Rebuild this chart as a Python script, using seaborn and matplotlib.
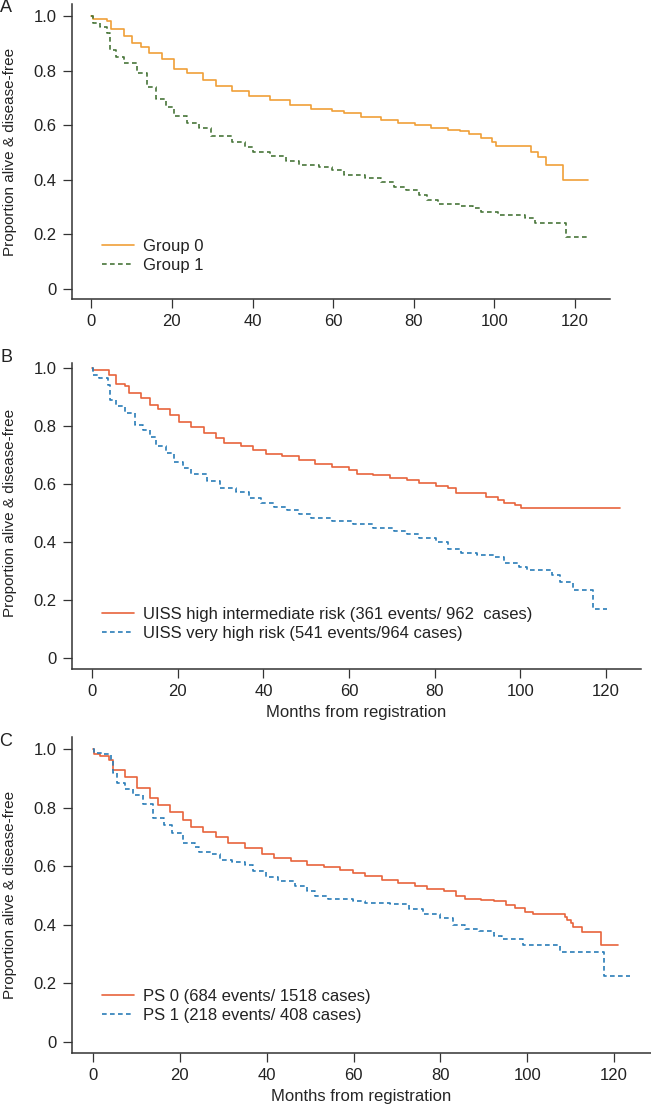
import numpy as np
import pandas as pd
import matplotlib
matplotlib.use("Agg")
import matplotlib.pyplot as plt
import seaborn as sns

# ---- data (months, proportion alive & disease-free) ----
a0_t = [0, 0.3, 3.9, 4.9, 8.2, 10, 12.3, 14.4, 17.5, 20.4, 23.7, 27.8, 30.9, 35, 39.1, 44.3, 49.4, 54.5,
        59.7, 62.8, 66.9, 72, 76.2, 80.3, 84.4, 88.5, 91.6, 93.7, 96.7, 99.3, 100.3, 109.1, 110.9, 112.7,
        117.1, 123.3]
a0_s = [1.0, 0.99, 0.98, 0.951, 0.927, 0.90, 0.888, 0.863, 0.841, 0.805, 0.79, 0.766, 0.744, 0.727, 0.707,
        0.692, 0.673, 0.661, 0.653, 0.643, 0.631, 0.619, 0.609, 0.60, 0.589, 0.582, 0.579, 0.568, 0.552,
        0.54, 0.524, 0.503, 0.485, 0.455, 0.399, 0.399]

a1_t = [0, 0.3, 2.1, 3.9, 4.6, 6.2, 8.2, 11.3, 13.9, 16, 18.5, 20.4, 23.7, 26.8, 29.8, 35, 38.1, 40.1, 44.3,
        48.4, 51.5, 56.6, 59.7, 62.8, 67.9, 72, 75.1, 78.2, 81.4, 83.4, 86, 91.6, 94.7, 96.7, 100.9, 107.5,
        110, 117.8, 123.5]
a1_s = [1.0, 0.973, 0.961, 0.936, 0.875, 0.851, 0.827, 0.79, 0.741, 0.695, 0.668, 0.632, 0.607, 0.589, 0.56,
        0.54, 0.521, 0.503, 0.487, 0.47, 0.454, 0.446, 0.436, 0.418, 0.405, 0.393, 0.375, 0.363, 0.344,
        0.326, 0.311, 0.304, 0.295, 0.281, 0.271, 0.259, 0.24, 0.189, 0.189]

b0_t = [0, 0.3, 3.9, 5.6, 7.6, 8.7, 11.4, 13.4, 15.3, 18.2, 20.2, 23.1, 26, 28.9, 30.8, 34.7, 37.6, 40.5,
        44.4, 48.3, 52.1, 56, 59.9, 61.8, 65.7, 69.6, 73.5, 76.4, 80.3, 83.2, 85.1, 91.9, 94.8, 96.2, 98.7,
        100.1, 123.4]
b0_s = [1.0, 0.993, 0.976, 0.945, 0.936, 0.915, 0.895, 0.872, 0.857, 0.838, 0.815, 0.797, 0.777, 0.757,
        0.742, 0.731, 0.717, 0.703, 0.696, 0.682, 0.668, 0.659, 0.648, 0.636, 0.631, 0.619, 0.613, 0.602,
        0.593, 0.585, 0.57, 0.556, 0.544, 0.535, 0.527, 0.516, 0.516]

b1_t = [0, 0.3, 1.7, 3.7, 4.2, 5.6, 7.6, 10, 11.9, 13.4, 14.8, 17.3, 19.2, 21.1, 23.1, 26.9, 29.9, 33.7,
        36.6, 39.5, 42.5, 45.4, 48.3, 51.2, 56, 60.9, 65.7, 70.6, 73.5, 76.4, 80.3, 83.2, 86.1, 90, 93.8,
        96.2, 99.6, 101.6, 107.4, 109.3, 112.2, 116.9, 120.2]
b1_s = [1.0, 0.976, 0.964, 0.941, 0.89, 0.869, 0.843, 0.803, 0.786, 0.763, 0.731, 0.705, 0.677, 0.654,
        0.636, 0.611, 0.585, 0.573, 0.55, 0.535, 0.521, 0.51, 0.496, 0.484, 0.473, 0.461, 0.449, 0.438,
        0.429, 0.412, 0.40, 0.377, 0.363, 0.355, 0.349, 0.326, 0.312, 0.303, 0.286, 0.263, 0.234, 0.17, 0.17]

c0_t = [0, 0.3, 1.5, 3.6, 4.6, 7.3, 10.1, 13, 14.9, 17.8, 20.6, 22.5, 25.4, 28.3, 31.1, 35, 38.8, 41.7,
        45.5, 49.3, 53.1, 56.9, 59.8, 62.7, 66.5, 70.3, 74.1, 77, 80.8, 83.7, 85.6, 89.4, 92.3, 95.2, 97.1,
        99.5, 101.4, 108.6, 109.1, 110.1, 110.6, 112.5, 117, 121]
c0_s = [1.0, 0.983, 0.976, 0.963, 0.928, 0.906, 0.866, 0.832, 0.809, 0.786, 0.758, 0.735, 0.718, 0.701,
        0.678, 0.661, 0.642, 0.627, 0.619, 0.605, 0.597, 0.588, 0.576, 0.565, 0.553, 0.542, 0.533, 0.522,
        0.514, 0.50, 0.488, 0.485, 0.48, 0.468, 0.457, 0.445, 0.436, 0.428, 0.417, 0.406, 0.392, 0.377,
        0.332, 0.332]

c1_t = [0, 0.3, 2.5, 4.2, 4.6, 5.4, 7.3, 9.2, 11.6, 13.9, 16.3, 18.2, 20.6, 23.5, 24.5, 27.3, 29.2, 32.1,
        35, 36.9, 39.8, 42.6, 46.4, 49.3, 51.2, 54.1, 59.8, 62.7, 68.4, 72.7, 76.1, 79.9, 82.8, 85.6, 89,
        92.3, 94.2, 99, 107.6, 117.6, 123.6]
c1_s = [1.0, 0.985, 0.983, 0.96, 0.917, 0.883, 0.862, 0.843, 0.814, 0.764, 0.741, 0.713, 0.678, 0.665,
        0.65, 0.642, 0.622, 0.616, 0.605, 0.582, 0.563, 0.548, 0.533, 0.514, 0.50, 0.488, 0.48, 0.474,
        0.472, 0.453, 0.438, 0.423, 0.401, 0.386, 0.378, 0.363, 0.351, 0.332, 0.306, 0.226, 0.226]

labels_a = ["Group 0", "Group 1"]
labels_b = ["UISS high intermediate risk (361 events/ 962  cases)", "UISS very high risk (541 events/964 cases)"]
labels_c = ["PS 0 (684 events/ 1518 cases)", "PS 1 (218 events/ 408 cases)"]

x_ticks = [0, 20, 40, 60, 80, 100, 120]
y_ticks = [0, 0.2, 0.4, 0.6, 0.8, 1.0]
y_ticklabels = ["0", "0.2", "0.4", "0.6", "0.8", "1.0"]

sns.set_style("ticks")
plt.rcParams['font.family'] = ['Liberation Sans', 'DejaVu Sans']
plt.rcParams['font.size'] = 12
plt.rcParams['text.color'] = '#222222'

W, H = 651, 1109
fig = plt.figure(figsize=(W / 100, H / 100), dpi=100)

DASH = (0, (2.8, 2.0))
FS = 12


def box(left, top, right, bottom):
    return [left / W, 1 - bottom / H, (right - left) / W, (bottom - top) / H]


def km_panel(rect, curves, labels, xlim, ylim, legend_top, xlabel):
    ax = fig.add_axes(rect)
    for (t, s, color, ls), lab in zip(curves, labels):
        df = pd.DataFrame({'month': t, 'surv': s})
        sns.lineplot(data=df, x='month', y='surv', ax=ax, color=color, linestyle=ls, lw=1.2,
                     drawstyle='steps-post', estimator=None, sort=False, label=lab)
    ax.set_xlim(*xlim)
    ax.set_ylim(*ylim)
    ax.set_xticks(x_ticks)
    ax.set_yticks(y_ticks)
    ax.set_yticklabels(y_ticklabels)
    sns.despine(ax=ax)
    for sp in ['left', 'bottom']:
        ax.spines[sp].set_linewidth(1.1)
        ax.spines[sp].set_color('#333333')
    ax.tick_params(direction='out', length=6.5, width=0.9, pad=4.5, colors='#333333',
                   labelcolor='#222222', labelsize=FS)
    ax.set_ylabel('')
    ax.set_xlabel(xlabel, fontsize=FS, labelpad=4)
    handles, labs = ax.get_legend_handles_labels()
    ax.legend(handles, labs, loc='upper left', bbox_to_anchor=(102 / W, 1 - legend_top / H),
              bbox_transform=fig.transFigure, frameon=False, borderpad=0, borderaxespad=0,
              handlelength=1.9, handletextpad=0.55, labelspacing=0.25, fontsize=FS)
    return ax


ax_a = km_panel(box(72, 4, 610, 299),
                [(a0_t, a0_s, '#F0A038', '-'), (a1_t, a1_s, '#48763A', DASH)],
                labels_a, (-4.79, 128.7), (-0.0366, 1.044), 239, '')
ax_b = km_panel(box(72, 363, 641, 669),
                [(b0_t, b0_s, '#E8643C', '-'), (b1_t, b1_s, '#2A7DB8', DASH)],
                labels_b, (-4.72, 128.2), (-0.038, 1.017), 607, 'Months from registration')
ax_c = km_panel(box(72, 737, 651, 1053),
                [(c0_t, c0_s, '#E8643C', '-'), (c1_t, c1_s, '#2A7DB8', DASH)],
                labels_c, (-4.85, 128.5), (-0.0375, 1.041), 989, 'Months from registration')

ylab = 'Proportion alive & disease-free'
for yc in [152, 513, 895]:
    fig.text(10 / W, 1 - yc / H, ylab, rotation=90, ha='center', va='center', fontsize=11)

for letter, yc in [('A', 7), ('B', 358), ('C', 742)]:
    fig.text(6 / W, 1 - yc / H, letter, ha='center', va='center', fontsize=13)

fig.savefig('out.png', dpi=100)
